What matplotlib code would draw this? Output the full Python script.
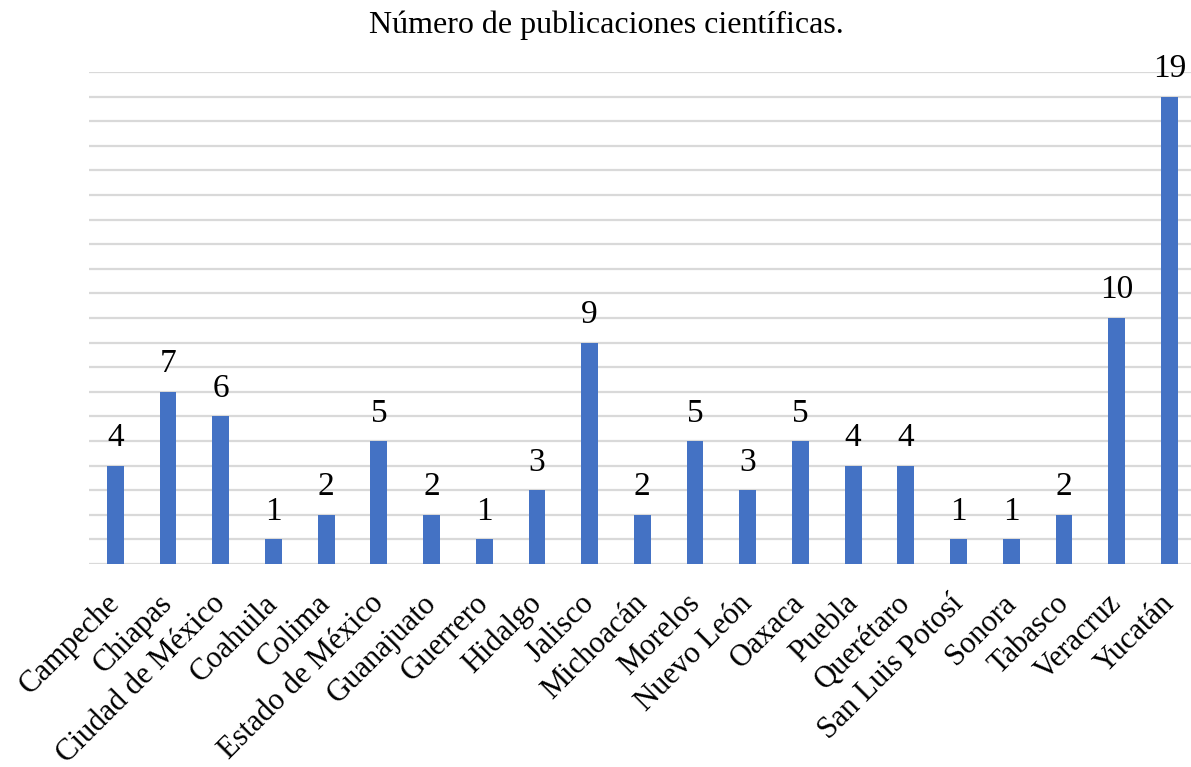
import numpy as np
import matplotlib
matplotlib.use("Agg")
import matplotlib.pyplot as plt
from matplotlib.transforms import ScaledTranslation

estados = ['Campeche', 'Chiapas', 'Ciudad de México', 'Coahuila', 'Colima',
           'Estado de México', 'Guanajuato', 'Guerrero', 'Hidalgo', 'Jalisco',
           'Michoacán', 'Morelos', 'Nuevo León', 'Oaxaca', 'Puebla',
           'Querétaro', 'San Luis Potosí', 'Sonora', 'Tabasco', 'Veracruz',
           'Yucatán']
publicaciones = [4, 7, 6, 1, 2, 5, 2, 1, 3, 9, 2, 5, 3, 5, 4, 4, 1, 1, 2, 10, 19]

plt.rcParams['font.family'] = ['Liberation Serif', 'DejaVu Serif']

fig = plt.figure(figsize=(11.91, 7.67), dpi=100)
ax = fig.add_axes([89/1191, 1 - 564/767, 1 - 89/1191, (564 - 72)/767])

x = np.arange(len(estados))
ax.bar(x, publicaciones, width=0.32, color='#4472C4', zorder=3)

# etiquetas de valor sobre cada barra
for xi, v in zip(x, publicaciones):
    ax.annotate(str(v), (xi, v), xytext=(0, 9), textcoords='offset points',
                ha='center', va='bottom', fontsize=24)

ax.set_ylim(0, 20)
ax.set_yticks(np.arange(0, 21, 1))
ax.yaxis.grid(True, color='#D9D9D9', linewidth=1.6, zorder=0)
ax.set_yticklabels([])
ax.tick_params(axis='y', length=0)
ax.tick_params(axis='x', length=0, pad=18)
# la ultima celda queda cortada por el borde derecho
ax.set_xlim(-0.5, (1191 - 89) / 52.7 - 0.5)
ax.set_xticks(x)
ax.set_xticklabels(estados, rotation=45, ha='right', rotation_mode='anchor',
                   fontsize=22)
corr = ScaledTranslation(-0.10, 0, fig.dpi_scale_trans)
for lab in ax.get_xticklabels():
    lab.set_transform(lab.get_transform() + corr)
for s in ax.spines.values():
    s.set_visible(False)

fig.text(606/1191, 1 - 25/767, 'Número de publicaciones científicas.',
         ha='center', va='center', fontsize=23)

fig.savefig('out.png', dpi=100)
